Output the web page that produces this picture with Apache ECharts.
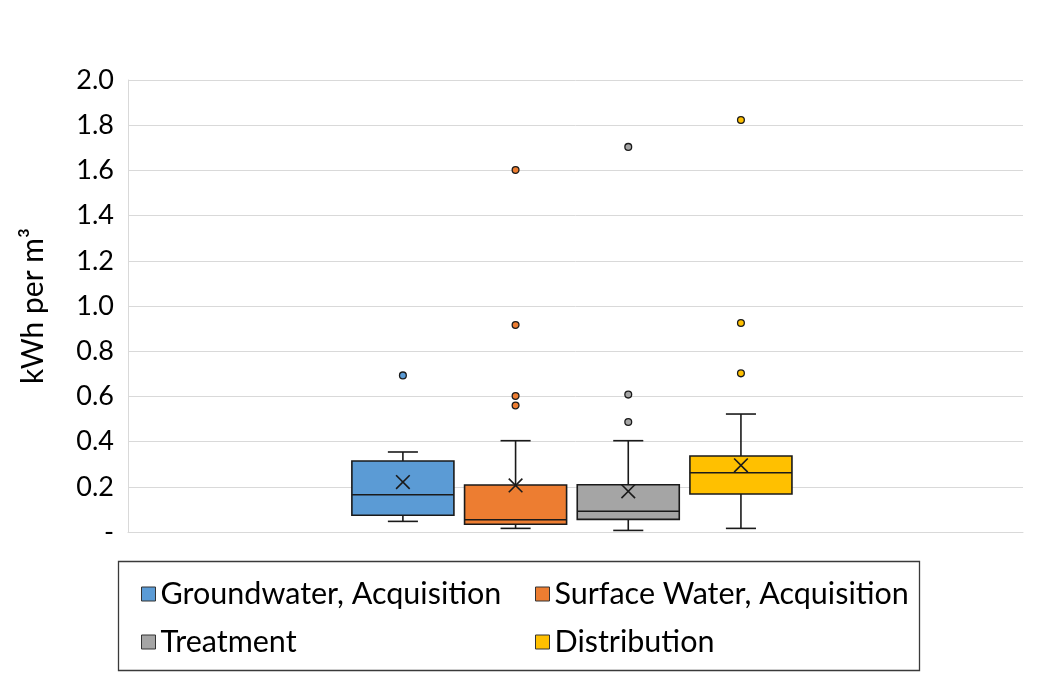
<!DOCTYPE html>
<html>
<head>
<meta charset="utf-8">
<script src="https://cdn.jsdelivr.net/npm/echarts@6/dist/echarts.min.js"></script>
<style>
  html, body { margin: 0; padding: 0; background: #fff; }
  #chart { width: 1037px; height: 684px; }
</style>
</head>
<body>
<div id="chart"></div>
<script>
// ---- data ----
const groups = ['Groundwater, Acquisition', 'Surface Water, Acquisition', 'Treatment', 'Distribution'];
const whiskerLow  = [0.047, 0.016, 0.007, 0.016];
const quartile1   = [0.074, 0.034, 0.056, 0.168];
const medians     = [0.165, 0.054, 0.092, 0.262];
const quartile3   = [0.314, 0.208, 0.209, 0.336];
const whiskerHigh = [0.354, 0.404, 0.404, 0.522];
const means       = [0.221, 0.206, 0.180, 0.295];
const outliersGroundwater = [0.693];
const outliersSurface     = [0.560, 0.602, 0.916, 1.602];
const outliersTreatment   = [0.487, 0.608, 1.704];
const outliersDistrib     = [0.702, 0.925, 1.823];
const outlierLists = [outliersGroundwater, outliersSurface, outliersTreatment, outliersDistrib];
const yTicks = [0, 0.2, 0.4, 0.6, 0.8, 1.0, 1.2, 1.4, 1.6, 1.8, 2.0];

// ---- styling ----
const colors = ['#5B9BD5', '#ED7D31', '#A5A5A5', '#FFC000'];
const FONT = 'Lato';
const EDGE = '#1a1a1a';

const chart = echarts.init(document.getElementById('chart'), null, { renderer: 'canvas' });

function groupOffset(bw, idx) {
  return (idx - 1.5) * bw * 0.1259 - bw * 0.004;
}

function boxRenderer(idx) {
  return function (params, api) {
    const bw = api.size([1, 0])[0];
    const cx = api.coord([api.value(0), 0])[0] + groupOffset(bw, idx);
    const half = bw * 0.057;
    const capHalf = bw * 0.0168;
    const y = v => api.coord([api.value(0), v])[1];
    const lo = y(api.value(1)), q1 = y(api.value(2)), md = y(api.value(3)),
          q3 = y(api.value(4)), hi = y(api.value(5)), mn = y(api.value(6));
    const line = { stroke: EDGE, lineWidth: 1.6 };
    const xs = 6.8;
    return {
      type: 'group',
      children: [
        { type: 'line', shape: { x1: cx, y1: hi, x2: cx, y2: q3 }, style: line },
        { type: 'line', shape: { x1: cx - capHalf, y1: hi, x2: cx + capHalf, y2: hi }, style: line },
        { type: 'line', shape: { x1: cx, y1: q1, x2: cx, y2: lo }, style: line },
        { type: 'line', shape: { x1: cx - capHalf, y1: lo, x2: cx + capHalf, y2: lo }, style: line },
        { type: 'rect', shape: { x: cx - half, y: q3, width: half * 2, height: q1 - q3 },
          style: { fill: colors[idx], stroke: EDGE, lineWidth: 1.6 } },
        { type: 'line', shape: { x1: cx - half, y1: md, x2: cx + half, y2: md }, style: line },
        { type: 'line', shape: { x1: cx - xs, y1: mn - xs, x2: cx + xs, y2: mn + xs }, style: line },
        { type: 'line', shape: { x1: cx - xs, y1: mn + xs, x2: cx + xs, y2: mn - xs }, style: line }
      ]
    };
  };
}

function outlierRenderer(idx) {
  return function (params, api) {
    const bw = api.size([1, 0])[0];
    const p = api.coord([api.value(0), api.value(1)]);
    return {
      type: 'circle',
      shape: { cx: p[0] + groupOffset(bw, idx), cy: p[1], r: 3.4 },
      style: { fill: colors[idx], stroke: EDGE, lineWidth: 1.3 }
    };
  };
}

const series = [];
groups.forEach((name, i) => {
  series.push({
    name: name,
    type: 'custom',
    renderItem: boxRenderer(i),
    itemStyle: { color: colors[i] },
    encode: { x: 0, y: [1, 2, 3, 4, 5, 6] },
    data: [[0, whiskerLow[i], quartile1[i], medians[i], quartile3[i], whiskerHigh[i], means[i]]],
    z: 3
  });
  series.push({
    name: name,
    type: 'custom',
    renderItem: outlierRenderer(i),
    itemStyle: { color: colors[i] },
    encode: { x: 0, y: 1 },
    data: outlierLists[i].map(v => [0, v]),
    z: 4
  });
});

const legendCommon = {
  orient: 'vertical',
  icon: 'rect',
  itemWidth: 14,
  itemHeight: 14,
  itemGap: 14,
  selectedMode: false,
  itemStyle: { borderColor: '#333', borderWidth: 1 },
  textStyle: { fontFamily: FONT, fontSize: 30.5, color: '#000', lineHeight: 34 }
};

const option = {
  animation: false,
  backgroundColor: '#fff',
  textStyle: { fontFamily: FONT },
  grid: { left: 128, right: 14, top: 80, bottom: 152, containLabel: false },
  xAxis: {
    type: 'category',
    data: [''],
    boundaryGap: true,
    axisLine: { show: true, lineStyle: { color: '#d9d9d9', width: 1 } },
    axisTick: { show: false },
    axisLabel: { show: false },
    splitLine: { show: false }
  },
  yAxis: {
    type: 'value',
    min: yTicks[0],
    max: yTicks[yTicks.length - 1],
    interval: 0.2,
    name: 'kWh per m³',
    nameLocation: 'middle',
    nameGap: 80,
    nameTextStyle: { fontFamily: FONT, fontSize: 30, color: '#000' },
    axisLine: { show: true, lineStyle: { color: '#d9d9d9', width: 1 } },
    axisTick: { show: false },
    axisLabel: {
      fontFamily: FONT, fontSize: 27, color: '#000', margin: 14,
      formatter: v => (Math.abs(v) < 1e-9 ? '-' : v.toFixed(1))
    },
    splitLine: { show: true, lineStyle: { color: '#d9d9d9', width: 1 } }
  },
  legend: [
    Object.assign({}, legendCommon, { left: 136, top: 572, data: [groups[0], groups[2]] }),
    Object.assign({}, legendCommon, { left: 530, top: 572, data: [groups[1], groups[3]] })
  ],
  graphic: [{
    type: 'rect',
    shape: { x: 118.5, y: 561.5, width: 801, height: 109 },
    style: { fill: 'none', stroke: '#3a3a3a', lineWidth: 1.3 },
    z: 0
  }],
  series: series
};

chart.setOption(option);
</script>
</body>
</html>
